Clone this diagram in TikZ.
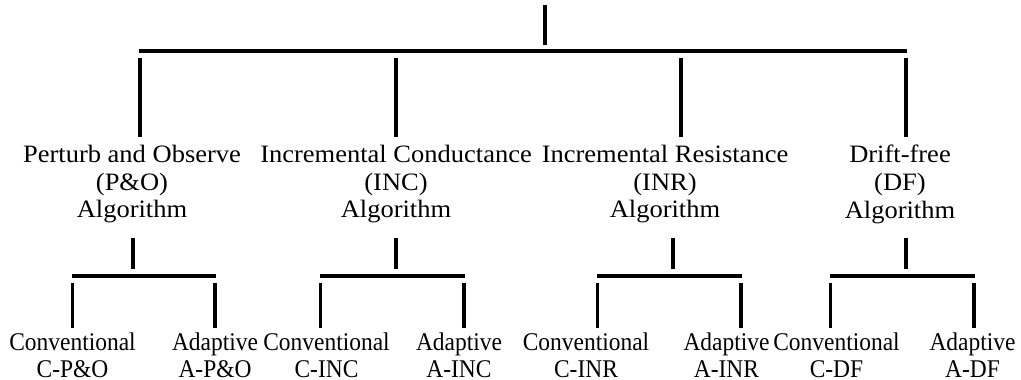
\documentclass[tikz,border=0pt]{standalone}
\usepackage{fontspec}
\setmainfont{Liberation Serif}
\newfontfamily\catfont[FakeStretch=1.06]{Liberation Serif}
\newfontfamily\leaffont[FakeStretch=0.92]{Liberation Serif}
\begin{document}
\begin{tikzpicture}[x=1pt,y=-1pt,
  branch/.style={line width=3.4pt},
  catbox/.style={font=\catfont\fontsize{25}{27.7}\selectfont, align=center, anchor=north, inner sep=0pt},
  leafbox/.style={font=\leaffont\fontsize{25.5}{27}\selectfont, align=center, anchor=north, inner sep=0pt}]
\fill[white] (0,0) rectangle (1021,380);
\useasboundingbox (0,0) rectangle (1021,380);

% root stem and main bar
\coordinate (root) at (545,5);
\coordinate (rootJ) at (545,45);
\coordinate (barL) at (139,51);
\coordinate (barR) at (907,51);
\draw[branch] (root) -- (rootJ);
\draw[branch] (barL) -- (barR);

% algorithm families
\node[catbox] (po)  at (132,145) {Perturb and Observe\\(P\&O)\\Algorithm};
\node[catbox] (inc) at (396,145) {Incremental Conductance\\(INC)\\Algorithm};
\node[catbox] (inr) at (665,145) {Incremental Resistance\\(INR)\\Algorithm};
\node[catbox] (df)  at (900,145) {Drift-free\\(DF)\\Algorithm};

\foreach \n/\x in {po/140, inc/396, inr/681, df/906}{
  \coordinate (\n-in)  at (\x,58);
  \coordinate (\n-end) at (\x,137);
  \draw[branch] (\n-in) -- (\n-end);
}

% sub-branches: stem, bar and two drops per family
\foreach \n/\s/\l/\r in {po/133/72/216, inc/396/320/465, inr/673/597/742, df/906/830/975}{
  \coordinate (\n-stemA) at (\s,238);
  \coordinate (\n-stemB) at (\s,269);
  \coordinate (\n-barL) at (\l,276);
  \coordinate (\n-barR) at (\r,276);
  \coordinate (\n-dLa) at (\l+0.5,283);
  \coordinate (\n-dLb) at (\l+0.5,328);
  \coordinate (\n-dRa) at (\r-1,283);
  \coordinate (\n-dRb) at (\r-1,328);
  \draw[branch] (\n-stemA) -- (\n-stemB);
  \draw[branch] (\n-barL) -- (\n-barR);
  \draw[branch] (\n-dLa) -- (\n-dLb);
  \draw[branch] (\n-dRa) -- (\n-dRb);
}

% variants
\node[leafbox] (cpo)  at (72.5,332.5)  {Conventional\\C-P\&O};
\node[leafbox] (apo)  at (215,332.5)   {Adaptive\\A-P\&O};
\node[leafbox] (cinc) at (326.5,332.5) {Conventional\\C-INC};
\node[leafbox] (ainc) at (459,332.5)   {Adaptive\\A-INC};
\node[leafbox] (cinr) at (586,332.5)   {Conventional\\C-INR};
\node[leafbox] (ainr) at (726.5,332.5) {Adaptive\\A-INR};
\node[leafbox] (cdf)  at (836.5,332.5) {Conventional\\C-DF};
\node[leafbox] (adf)  at (972.5,332.5) {Adaptive\\A-DF};
\end{tikzpicture}
\end{document}
